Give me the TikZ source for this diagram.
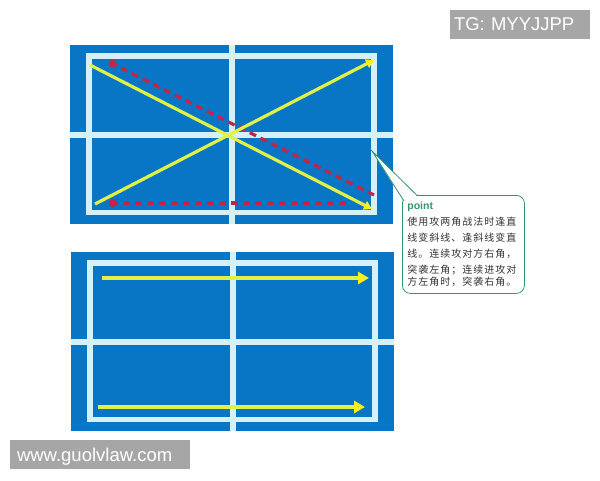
\documentclass[tikz,border=0pt]{standalone}
\usepackage{fontspec}
\setmainfont{Liberation Sans}
\newfontfamily\cjk[LetterSpace=10]{Noto Sans CJK SC}
\usetikzlibrary{arrows.meta, calc, positioning}
\definecolor{courtblue}{RGB}{8,118,196}
\definecolor{courtline}{RGB}{214,240,248}
\definecolor{shotyellow}{RGB}{224,242,70}
\definecolor{tipyellow}{RGB}{250,240,30}
\definecolor{shotred}{RGB}{196,36,70}
\definecolor{notegreen}{RGB}{52,150,110}
\definecolor{markgray}{RGB}{166,166,166}
\tikzstyle{court} = [fill=courtblue, draw=none]
\tikzstyle{courtlines} = [draw=courtline, line width=5.5pt]
\tikzstyle{shot} = [draw=shotyellow, line width=3.2pt, -{Triangle[length=8pt,width=9pt,color=tipyellow]}]
\tikzstyle{drive} = [draw=shotyellow, line width=3.2pt, -{Triangle[length=11pt,width=12pt,color=tipyellow]}]
\tikzstyle{feint} = [draw=shotred, line width=3.2pt, dash pattern=on 7pt off 5pt, -{Circle[length=7.5pt]}]
\tikzstyle{notebox} = [rectangle, rounded corners=8pt, draw=notegreen, line width=0.8pt, fill=white,
minimum width=121pt, minimum height=98pt, text width=112pt, inner sep=5pt, align=left]
\tikzstyle{watermark} = [rectangle, fill=markgray, text=white, font=\fontsize{18.5}{18.5}\selectfont,
inner sep=0pt, text depth=0pt]

\begin{document}
\begin{tikzpicture}[x=1pt, y=-1pt]
  \useasboundingbox (0,0) rectangle (600,480);
  % two courts
  \foreach \ox/\oy in {70/45, 71/252} {
    \begin{scope}[shift={(\ox,\oy)}]
      \fill [court] (0,0) rectangle (323,179);
      \draw [courtlines] (19,11) rectangle (304,167.5);
      \draw [courtlines] (162,0) -- (162,179);
      \draw [courtlines] (0,90) -- (323,90);
    \end{scope}
  }

  % top court: cross-court and straight shots
  \coordinate (a1) at (90,65);
  \coordinate (a2) at (372,209);
  \coordinate (b1) at (95,204);
  \coordinate (b2) at (374,60);
  \coordinate (r1) at (374,195);
  \coordinate (r2) at (109,62);
  \coordinate (r3) at (346,203);
  \coordinate (r4) at (109,203);
  \draw [feint] (r1) -- (r2);
  \draw [feint] (r3) -- (r4);
  \draw [shot] (a1) -- (a2);
  \draw [shot] (b1) -- (b2);

  % bottom court: straight shots
  \coordinate (c1) at (102,278);
  \coordinate (c2) at (369,278);
  \coordinate (d1) at (98,407);
  \coordinate (d2) at (365,407);
  \draw [drive] (c1) -- (c2);
  \draw [drive] (d1) -- (d2);

  % callout
  \node (note) [notebox, anchor=north west] at (402,195) {%
    {\bfseries\color{notegreen}\fontsize{10.5}{12}\selectfont point}\\[0pt]
    {\cjk\color{black!80}\fontsize{10}{16}\selectfont 使用攻两角战法时逢直\\线变斜线、逢斜线变直\\线。连续攻对方右角，\\突袭左角；连续进攻对\\方左角时，突袭右角。}};
  \coordinate (tip) at (372,151);
  \fill [white] (tip) -- (404,202) -- (418,197) -- cycle;
  \draw [notegreen, line width=0.8pt] (404,201) -- (tip) -- (417,195.4);

  % watermarks
  \node (tgmark) [watermark, minimum width=140pt, minimum height=29pt, text width=132pt, align=left] at (520,24.5) {TG: MYYJJPP};
  \node (webmark) [watermark, minimum width=180pt, minimum height=29pt, text width=166pt, align=left] at (100,454.5) {www.guolvlaw.com};
\end{tikzpicture}
\end{document}
